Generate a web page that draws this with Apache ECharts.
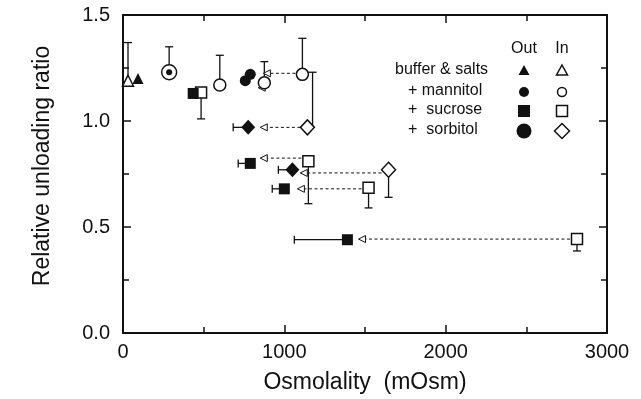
<!DOCTYPE html>
<html>
<head>
<meta charset="utf-8">
<script src="https://cdn.jsdelivr.net/npm/echarts@6/dist/echarts.min.js"></script>
<style>
  html, body { margin: 0; padding: 0; background: #fff; }
  #chart { width: 641px; height: 399px; }
</style>
</head>
<body>
<div id="chart"></div>
<script>
// ===== Relative unloading ratio vs osmolality =====
var ink = '#111';
var font = '"Liberation Sans", Arial, sans-serif';

// Out (filled) points: [x, y]
var outTriangle = [[93, 1.20]];
var outCircle = [[758, 1.19], [789, 1.22]];
var outDot = [[286, 1.23]];
var outSquare = [[435, 1.13], [789, 0.80], [1000, 0.68], [1391, 0.44]];
var outDiamond = [[776, 0.97], [1050, 0.77]];

// In (open) points: [x, y]
var inTriangle = [[31, 1.19]];
var inCircle = [[600, 1.17], [876, 1.18], [1112, 1.22]];
var inRing = [[286, 1.23]];
var inSquare = [[484, 1.135], [1149, 0.81], [1522, 0.685], [2814, 0.443]];
var inDiamond = [[1143, 0.97], [1646, 0.77]];

// vertical error bars of In points: [x, y, yEnd]
var inErr = [[31, 1.19, 1.37], [286, 1.23, 1.35], [600, 1.17, 1.31], [876, 1.18, 1.28],
  [1112, 1.22, 1.39], [484, 1.135, 1.01], [1149, 0.81, 0.61], [1522, 0.685, 0.59],
  [2814, 0.443, 0.387], [1175, 0.97, 1.23], [1646, 0.77, 0.64]];
// horizontal error bars of Out points: [x, y, xEnd]
var outErr = [[789, 0.80, 714], [1000, 0.68, 925], [1391, 0.44, 1062], [776, 0.97, 683], [1050, 0.77, 963]];
// dashed shift arrows In -> Out: [xFrom, xTip, y]
var shifts = [[1112, 870, 1.225], [872, 838, 1.157], [1143, 851, 0.97], [1149, 851, 0.825],
  [1646, 1099, 0.755], [1522, 1081, 0.68], [2814, 1460, 0.443]];

var xTicks = [0, 1000, 2000, 3000];
var yTicks = [0.0, 0.5, 1.0, 1.5];

// legend rows
var legendRows = ['buffer & salts', '+ mannitol', '+  sucrose', '+  sorbitol'];
var legendHead = ['Out', 'In'];

function vErr(params, api) {
  var p = api.coord([api.value(0), api.value(1)]);
  var e = api.coord([api.value(0), api.value(2)]);
  return { type: 'group', children: [
    { type: 'line', shape: { x1: p[0], y1: p[1], x2: e[0], y2: e[1] }, style: { stroke: ink, lineWidth: 1.3 } },
    { type: 'line', shape: { x1: e[0] - 4, y1: e[1], x2: e[0] + 4, y2: e[1] }, style: { stroke: ink, lineWidth: 1.3 } }
  ]};
}

function hErr(params, api) {
  var p = api.coord([api.value(0), api.value(1)]);
  var e = api.coord([api.value(2), api.value(1)]);
  return { type: 'group', children: [
    { type: 'line', shape: { x1: p[0], y1: p[1], x2: e[0], y2: e[1] }, style: { stroke: ink, lineWidth: 1.3 } },
    { type: 'line', shape: { x1: e[0], y1: e[1] - 4, x2: e[0], y2: e[1] + 4 }, style: { stroke: ink, lineWidth: 1.3 } }
  ]};
}

function shiftArrow(params, api) {
  var a = api.coord([api.value(0), api.value(2)]);
  var t = api.coord([api.value(1), api.value(2)]);
  var x0 = a[0] - 7, tx = t[0], y = t[1];
  var kids = [];
  if (x0 > tx + 7) {
    kids.push({ type: 'line', shape: { x1: x0, y1: y, x2: tx + 7, y2: y },
      style: { stroke: ink, lineWidth: 1, lineDash: [3, 2.5] } });
  }
  kids.push({ type: 'polygon', shape: { points: [[tx, y], [tx + 7, y - 3.5], [tx + 7, y + 3.5]] },
    style: { fill: '#fff', stroke: ink, lineWidth: 1 } });
  return { type: 'group', children: kids };
}

function openSeries(data, symbol, size) {
  return { type: 'scatter', data: data, symbol: symbol, symbolSize: size, z: 5,
    itemStyle: { color: '#fff', borderColor: ink, borderWidth: 1.5, opacity: 1 } };
}
function filledSeries(data, symbol, size) {
  return { type: 'scatter', data: data, symbol: symbol, symbolSize: size, z: 6,
    itemStyle: { color: ink, opacity: 1 } };
}

// legend drawn as graphics (layout is a small table)
var lgX = [524, 562], lgY = [71, 92, 111, 131];
var graphics = [];
legendHead.forEach(function(t, i) {
  graphics.push({ type: 'text', x: lgX[i], y: 49, style: { text: t, font: '16px ' + font, fill: ink, textAlign: 'center', textVerticalAlign: 'middle' } });
});
legendRows.forEach(function(t, i) {
  graphics.push({ type: 'text', x: i === 0 ? 395 : 408, y: lgY[i] - 1, style: { text: t, font: '16px ' + font, fill: ink, textAlign: 'left', textVerticalAlign: 'middle' } });
});
var fillS = { fill: ink }, openS = { fill: '#fff', stroke: ink, lineWidth: 1.5 };
graphics.push(
  { type: 'polygon', shape: { points: [[lgX[0], lgY[0] - 6], [lgX[0] + 5.5, lgY[0] + 4], [lgX[0] - 5.5, lgY[0] + 4]] }, style: fillS },
  { type: 'polygon', shape: { points: [[lgX[1], lgY[0] - 6], [lgX[1] + 5.5, lgY[0] + 4], [lgX[1] - 5.5, lgY[0] + 4]] }, style: openS },
  { type: 'circle', shape: { cx: lgX[0], cy: lgY[1], r: 5 }, style: fillS },
  { type: 'circle', shape: { cx: lgX[1], cy: lgY[1], r: 4.5 }, style: openS },
  { type: 'rect', shape: { x: lgX[0] - 6, y: lgY[2] - 6, width: 12, height: 12 }, style: fillS },
  { type: 'rect', shape: { x: lgX[1] - 5.5, y: lgY[2] - 5.5, width: 11, height: 11 }, style: openS },
  { type: 'circle', shape: { cx: lgX[0], cy: lgY[3], r: 7.5 }, style: fillS },
  { type: 'polygon', shape: { points: [[lgX[1], lgY[3] - 7.5], [lgX[1] + 7.5, lgY[3]], [lgX[1], lgY[3] + 7.5], [lgX[1] - 7.5, lgY[3]]] }, style: openS }
);

var baseAxis = {
  axisLine: { show: true, onZero: false, lineStyle: { color: ink, width: 2 } },
  axisTick: { show: true, inside: true, length: 8, lineStyle: { color: ink, width: 1.5 } },
  minorTick: { show: true, splitNumber: 2, length: 6, lineStyle: { color: ink, width: 1.5 } },
  splitLine: { show: false }
};

var chart = echarts.init(document.getElementById('chart'), null, { renderer: 'canvas' });
chart.setOption({
  animation: false,
  backgroundColor: '#fff',
  grid: { left: 123, right: 34, top: 15, bottom: 66 },
  xAxis: [
    Object.assign({}, baseAxis, {
      type: 'value', position: 'bottom', min: 0, max: 3000, interval: 1000,
      name: 'Osmolality  (mOsm)', nameLocation: 'middle', nameGap: 38,
      nameTextStyle: { fontFamily: font, fontSize: 23, color: ink },
      axisLabel: { margin: 9, fontFamily: font, fontSize: 20, color: ink,
        formatter: function(v) { return xTicks.indexOf(v) >= 0 ? String(v) : ''; } }
    }),
    Object.assign({}, baseAxis, {
      type: 'value', position: 'top', min: 0, max: 3000, interval: 1000, axisLabel: { show: false }
    })
  ],
  yAxis: [
    Object.assign({}, baseAxis, {
      type: 'value', position: 'left', min: 0, max: 1.5, interval: 0.5,
      name: 'Relative unloading ratio', nameLocation: 'middle', nameGap: 69,
      nameTextStyle: { fontFamily: font, fontSize: 23, color: ink, padding: [0, 0, 0, 16] },
      axisLabel: { margin: 13, fontFamily: font, fontSize: 20, color: ink,
        formatter: function(v) { return yTicks.indexOf(v) >= 0 ? v.toFixed(1) : ''; } }
    }),
    Object.assign({}, baseAxis, {
      type: 'value', position: 'right', min: 0, max: 1.5, interval: 0.5, axisLabel: { show: false }
    })
  ],
  graphic: graphics,
  series: [
    { type: 'custom', renderItem: vErr, data: inErr, z: 2 },
    { type: 'custom', renderItem: hErr, data: outErr, z: 2 },
    { type: 'custom', renderItem: shiftArrow, data: shifts, z: 3 },
    openSeries(inTriangle, 'triangle', 11),
    openSeries(inCircle, 'circle', 12),
    openSeries(inRing, 'circle', 15),
    openSeries(inSquare, 'rect', 11),
    openSeries(inDiamond, 'diamond', [14, 15]),
    filledSeries(outTriangle, 'triangle', 11),
    filledSeries(outCircle, 'circle', 11),
    filledSeries(outDot, 'circle', 6),
    filledSeries(outSquare, 'rect', 11),
    filledSeries(outDiamond, 'diamond', [14, 15])
  ]
});
</script>
</body>
</html>
